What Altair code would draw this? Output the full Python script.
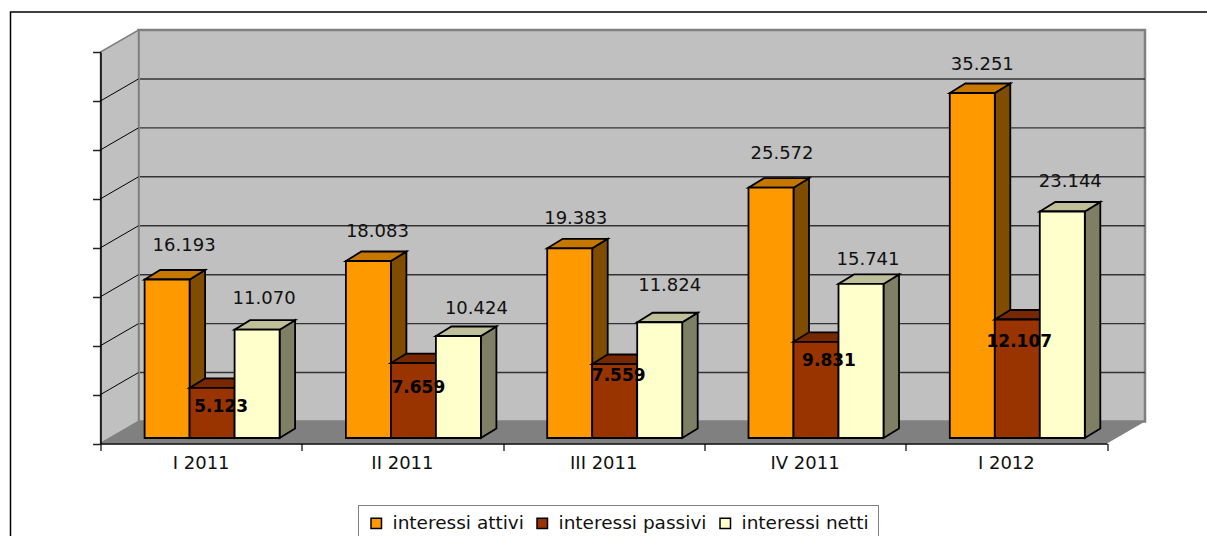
import altair as alt
import pandas as pd

periods = ["I 2011", "II 2011", "III 2011", "IV 2011", "I 2012"]
attivi = [16193, 18083, 19383, 25572, 35251]
passivi = [5123, 7659, 7559, 9831, 12107]
netti = [11070, 10424, 11824, 15741, 23144]

series_names = ["interessi attivi", "interessi passivi", "interessi netti"]
front_colors = ["#FF9900", "#993300", "#FFFFCC"]
top_colors = ["#C67700", "#772800", "#BFBF99"]
side_colors = ["#7F4C00", "#662200", "#7F7F66"]

# Hand placement of the value labels, in pixels relative to the bar's top centre.
label_dx = [[17, 9, 6, 11, 10], [9, 5, 4, 13, 2], [7, 18, 10, 7, 8]]
label_dy = [[-34, -29, -29, -34, -28], [19, 25, 12, 19, 22], [-31, -27, -36, -24, -29]]

PLOT_W, PLOT_H = 1006.5, 391.5
X_MAX, Y_MAX = 5, 40000
PX_X = X_MAX / PLOT_W
PX_Y = Y_MAX / PLOT_H

WALL_DX, WALL_DY = 38 * PX_X, 22 * PX_Y
BAR_DX, BAR_DY = 15.5 * PX_X, 9.5 * PX_Y
BAR_BASE = 5.5 * PX_Y
BAR_START, BAR_W = 44.1 * PX_X, 45 * PX_X
levels = list(range(0, Y_MAX + 1, 5000))

FONT = "DejaVu Sans"
xs = alt.Scale(domain=[0, X_MAX], nice=False, zero=False)
ys = alt.Scale(domain=[0, Y_MAX], nice=False, zero=False)
x_axis = alt.Axis(values=list(range(X_MAX + 1)), labels=False, title=None, grid=False, tickSize=7,
                  tickColor="black", domainColor="black", tickWidth=1.2, domainWidth=1.5, zindex=1)
y_axis = alt.Axis(values=levels, labels=False, title=None, grid=False, tickSize=8,
                  tickColor="#222222", domainColor="black", tickWidth=1.5, domainWidth=1.5, zindex=1)
X = lambda f: alt.X(f, type="quantitative", scale=xs, axis=x_axis)
Y = lambda f: alt.Y(f, type="quantitative", scale=ys, axis=y_axis, stack=None)


def polygon(rows):
    return pd.DataFrame(rows, columns=["x", "y", "y2"])


frame = alt.Chart().mark_rect(fill="white", fillOpacity=0, stroke="black", strokeWidth=1.5).encode(
    x=alt.value(-90), x2=alt.value(1300), y=alt.value(-40), y2=alt.value(600)
)

back_wall = alt.Chart(pd.DataFrame([{"x": WALL_DX, "x2": X_MAX + WALL_DX, "y": WALL_DY, "y2": Y_MAX + WALL_DY}])).mark_rect(
    fill="#C0C0C0", stroke="#808080", strokeWidth=2.5
).encode(x=X("x"), x2="x2", y=Y("y"), y2="y2")

side_wall = alt.Chart(polygon([[0, 0, Y_MAX], [WALL_DX, WALL_DY, Y_MAX + WALL_DY]])).mark_area(
    fill="#C0C0C0", stroke="#808080", strokeWidth=1.5, orient="vertical"
).encode(x=X("x"), y=Y("y"), y2="y2")

grid_back = alt.Chart(pd.DataFrame({"v": [l + WALL_DY for l in levels[1:-1]], "a": WALL_DX + 1.5 * PX_X, "b": X_MAX + WALL_DX})).mark_rule(
    color="#333333", strokeWidth=1.4
).encode(x=X("a"), x2="b", y=Y("v"))

grid_side = alt.Chart(pd.DataFrame(
    [{"l": l, "x": 0, "y": l} for l in levels[1:-1]] + [{"l": l, "x": WALL_DX, "y": l + WALL_DY} for l in levels[1:-1]]
)).mark_line(color="black", strokeWidth=1).encode(x=X("x"), y=Y("y"), detail="l:N")

floor = alt.Chart(polygon([
    [0, 0, 0], [WALL_DX, 0, WALL_DY], [X_MAX, 0, WALL_DY], [X_MAX + WALL_DX, WALL_DY, WALL_DY],
])).mark_area(fill="#808080", orient="vertical").encode(x=X("x"), y=Y("y"), y2="y2")

layers = [frame, back_wall, side_wall, grid_back, grid_side, floor]

color_scale = alt.Scale(domain=series_names, range=front_colors)
legend = alt.Legend(
    title=None, orient="none", legendX=257.5, legendY=453, direction="horizontal", symbolType="square",
    symbolSize=110, symbolStrokeColor="black", symbolStrokeWidth=1.5, labelFont=FONT, labelFontSize=18.5,
    labelColor="#111111", fillColor="white", strokeColor="#808080", padding=9, columnPadding=9,
    labelOffset=7, labelLimit=300,
)

all_values = [attivi, passivi, netti]
label_rows = []
for s, (name, values) in enumerate(zip(series_names, all_values)):
    fronts, faces = [], []
    for g, v in enumerate(values):
        x0 = g + BAR_START + s * BAR_W
        x1 = x0 + BAR_W
        y0, y1 = BAR_BASE, BAR_BASE + v
        fronts.append({"x": x0, "x2": x1, "y": y0, "y2": y1, "series": name})
        for kind, color, pts in [
            ("side", side_colors[s], [[x1, y0, y1], [x1 + BAR_DX, y0 + BAR_DY, y1 + BAR_DY]]),
            ("top", top_colors[s], [[x0, y1, y1], [x0 + BAR_DX, y1, y1 + BAR_DY],
                                    [x1, y1, y1 + BAR_DY], [x1 + BAR_DX, y1 + BAR_DY, y1 + BAR_DY]]),
        ]:
            for p in pts:
                faces.append({"face": f"{kind}{g}", "fill": color, "x": p[0], "y": p[1], "y2": p[2]})
        label_rows.append({
            "x": (x0 + x1) / 2 + label_dx[s][g] * PX_X,
            "y": y1 - label_dy[s][g] * PX_Y,
            "text": f"{v:,}".replace(",", "."),
            "bold": s == 1,
        })
    layers.append(alt.Chart(pd.DataFrame(faces)).mark_area(stroke="black", strokeWidth=1.8, orient="vertical").encode(
        x=X("x"), y=Y("y"), y2="y2", detail="face:N", color=alt.Color("fill:N", scale=None, legend=None)
    ))
    layers.append(alt.Chart(pd.DataFrame(fronts)).mark_rect(stroke="black", strokeWidth=1.8).encode(
        x=X("x"), x2="x2", y=Y("y"), y2="y2",
        fill=alt.Fill("series:N", scale=color_scale, legend=legend),
    ))

labels = pd.DataFrame(label_rows)
plain = alt.Chart(labels[~labels["bold"]]).mark_text(font=FONT, fontSize=18, color="#111111").encode(
    x=X("x"), y=Y("y"), text="text:N"
)
bold = alt.Chart(labels[labels["bold"]]).mark_text(font=FONT, fontSize=17, fontWeight="bold", color="black").encode(
    x=X("x"), y=Y("y"), text="text:N"
)
category = alt.Chart(pd.DataFrame({"x": [i + 0.5 for i in range(len(periods))], "text": periods})).mark_text(
    font=FONT, fontSize=18, color="#111111"
).encode(x=X("x"), y=alt.value(412), text="text:N")

layers += [plain, bold, category]

chart = alt.layer(*layers).resolve_scale(color="independent", fill="independent").properties(
    width=PLOT_W, height=PLOT_H,
    autosize=alt.AutoSizeParams(type="none"),
    padding={"left": 100.5, "top": 52, "right": 100, "bottom": 92.5},
    background="white",
).configure_view(stroke=None)

chart.save("out.html", embed_options={"renderer": "svg", "actions": False})
